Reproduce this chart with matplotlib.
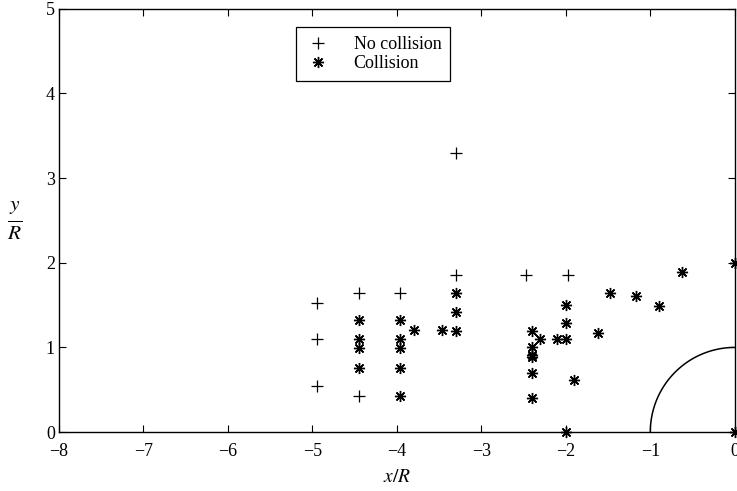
import numpy as np
import matplotlib.pyplot as plt

plt.rcParams['font.family'] = 'Liberation Serif'
plt.rcParams['mathtext.fontset'] = 'stix'

# no collision cases (+)
nc_x = [-4.95, -4.95, -4.95, -4.45, -4.45, -3.96, -3.30, -3.30, -2.47, -1.98]
nc_y = [1.53, 1.10, 0.54, 1.64, 0.43, 1.64, 1.86, 3.30, 1.86, 1.86]

# collision cases (*)
c_x = [-4.45, -4.45, -4.45, -4.45,
       -3.96, -3.96, -3.96, -3.96, -3.96,
       -3.80, -3.47,
       -3.30, -3.30, -3.30,
       -2.40, -2.30, -2.40, -2.40, -2.40, -2.40, -2.40,
       -2.10, -2.00, -2.00, -2.00, -2.00, -1.90,
       -1.62, -1.48, -1.17, -0.90, -0.62, 0.0, 0.0]
c_y = [1.32, 1.10, 0.99, 0.76,
       1.32, 1.10, 0.99, 0.76, 0.43,
       1.21, 1.21,
       1.64, 1.42, 1.20,
       1.19, 1.10, 1.00, 0.91, 0.89, 0.70, 0.40,
       1.10, 1.50, 1.29, 1.10, 0.0, 0.61,
       1.17, 1.64, 1.61, 1.49, 1.89, 2.0, 0.0]

fig = plt.figure(figsize=(7.37, 4.91), dpi=100)
ax = fig.add_axes([0.080, 0.120, 0.917, 0.862])

ax.plot(nc_x, nc_y, ls='none', marker='+', ms=9, mew=0.9, c='k',
        label='No collision', clip_on=False)
ax.plot(c_x, c_y, ls='none', marker=(8, 2, 0), ms=8, mew=1.0, c='k',
        label='Collision', clip_on=False)

# body: quarter circle of radius R
th = np.linspace(np.pi / 2, np.pi, 100)
ax.plot(np.cos(th), np.sin(th), c='k', lw=1.1)

ax.set_xlim(-8, 0)
ax.set_ylim(0, 5)
ax.set_xticks(range(-8, 1))
ax.set_yticks(range(0, 6))
ax.tick_params(direction='in', top=True, right=True, length=5, labelsize=13)
ax.tick_params(axis='x', pad=8)
ax.tick_params(axis='y', pad=3)
for s in ax.spines.values():
    s.set_linewidth(1.0)

ax.set_xlabel(r'$x/R$', fontsize=14, labelpad=6)
ax.set_ylabel(r'$\frac{y}{R}$', fontsize=22, rotation=0, labelpad=22, va='center')

leg = ax.legend(loc='upper left', bbox_to_anchor=(0.337, 0.978), fontsize=13,
                fancybox=False, edgecolor='k', framealpha=1, handlelength=1.5,
                borderpad=0.5, labelspacing=0.1, handletextpad=1.2)
leg.get_frame().set_linewidth(0.9)

fig.savefig('out.png', dpi=100)
